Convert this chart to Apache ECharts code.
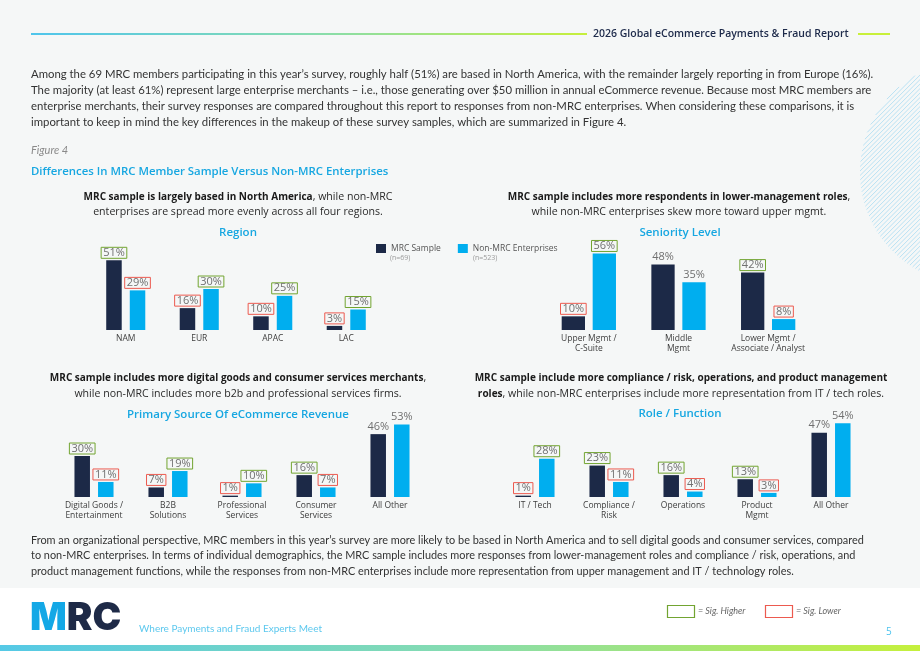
<!DOCTYPE html>
<html>
<head>
<meta charset="utf-8">
<script src="https://cdn.jsdelivr.net/npm/echarts@6/dist/echarts.min.js"></script>
<style>
  html, body { margin: 0; padding: 0; background: #fff; }
  #main { width: 920px; height: 651px; }
</style>
</head>
<body>
<div id="main"></div>
<script>
// colours used across the page
var NAVY = '#1c2947';
var CYAN = '#00aeef';
var SIG_HIGH = '#72a431';
var SIG_LOW = '#ec5a4f';
var BODY_FONT = 'Lato';
var HEAD_FONT = '"Open Sans"';

// Region
var regionCats = ['NAM', 'EUR', 'APAC', 'LAC'];
var regionMrc = [51, 16, 10, 3];
var regionNon = [29, 30, 25, 15];
var regionMrcSig = ['h', 'l', 'l', 'l'];
var regionNonSig = ['l', 'h', 'h', 'h'];

// Seniority level
var seniorCats = ['Upper Mgmt /\nC-Suite', 'Middle\nMgmt', 'Lower Mgmt /\nAssociate / Analyst'];
var seniorMrc = [10, 48, 42];
var seniorNon = [56, 35, 8];
var seniorMrcSig = ['l', '', 'h'];
var seniorNonSig = ['h', '', 'l'];

// Primary source of eCommerce revenue
var sourceCats = ['Digital Goods /\nEntertainment', 'B2B\nSolutions', 'Professional\nServices', 'Consumer\nServices', 'All Other'];
var sourceMrc = [30, 7, 1, 16, 46];
var sourceNon = [11, 19, 10, 7, 53];
var sourceMrcSig = ['h', 'l', 'l', 'h', ''];
var sourceNonSig = ['l', 'h', 'h', 'l', ''];

// Role / function
var roleCats = ['IT / Tech', 'Compliance /\nRisk', 'Operations', 'Product\nMgmt', 'All Other'];
var roleMrc = [1, 23, 16, 13, 47];
var roleNon = [28, 11, 4, 3, 54];
var roleMrcSig = ['l', 'h', 'h', 'h', ''];
var roleNonSig = ['h', 'l', 'l', 'l', ''];

// text blocks
var introLines = [
  'Among the 69 MRC members participating in this year\u2019s survey, roughly half (51%) are based in North America, with the remainder largely reporting in from Europe (16%).',
  'The majority (at least 61%) represent large enterprise merchants \u2013 i.e., those generating over $50 million in annual eCommerce revenue. Because most MRC members are',
  'enterprise merchants, their survey responses are compared throughout this report to responses from non-MRC enterprises. When considering these comparisons, it is',
  'important to keep in mind the key differences in the makeup of these survey samples, which are summarized in Figure 4.'
];
var outroLines = [
  'From an organizational perspective, MRC members in this year\u2019s survey are more likely to be based in North America and to sell digital goods and consumer services, compared',
  'to non-MRC enterprises. In terms of individual demographics, the MRC sample includes more responses from lower-management roles and compliance / risk, operations, and',
  'product management functions, while the responses from non-MRC enterprises include more representation from upper management and IT / technology roles.'
];

var chartDom = document.getElementById('main');
var myChart = echarts.init(chartDom);

// bar values with the significance box on the label
function withSig(values, sig) {
  return values.map(function (v, i) {
    var item = { value: v };
    if (sig[i] === 'h') {
      item.label = { borderColor: SIG_HIGH, borderWidth: 1 };
    } else if (sig[i] === 'l') {
      item.label = { borderColor: SIG_LOW, borderWidth: 1 };
    }
    return item;
  });
}

function barSeries(name, color, idx, values, sig, width, gap) {
  return {
    name: name,
    type: 'bar',
    xAxisIndex: idx,
    yAxisIndex: idx,
    barWidth: width,
    barGap: gap,
    itemStyle: { color: color },
    data: withSig(values, sig),
    label: {
      show: true,
      position: 'top',
      distance: 2,
      formatter: '{c}%',
      fontFamily: HEAD_FONT,
      fontSize: 11,
      lineHeight: 11,
      color: '#707070',
      padding: [0, 2, 0, 2]
    }
  };
}

function catAxis(idx, cats) {
  return {
    type: 'category',
    gridIndex: idx,
    data: cats,
    axisLine: { show: false },
    axisTick: { show: false },
    axisLabel: {
      interval: 0,
      margin: 4,
      fontFamily: HEAD_FONT,
      fontSize: 8.5,
      lineHeight: 10,
      color: '#3d3d3d'
    }
  };
}

function valAxis(idx) {
  return { type: 'value', gridIndex: idx, min: 0, max: 60, show: false, splitLine: { show: false } };
}

function text(x, y, str, font, fill, align) {
  return {
    type: 'text',
    style: {
      x: x, y: y, text: str, font: font, fill: fill,
      textAlign: align || 'left', textVerticalAlign: 'middle'
    }
  };
}

// chart subheadings: regular part 10.6px, bold part 10px
function richText(x, y, str) {
  return {
    type: 'text',
    style: {
      x: x, y: y, text: str,
      font: '10.6px ' + HEAD_FONT, fill: '#2a2a2a',
      textAlign: 'center', textVerticalAlign: 'middle',
      rich: {
        b: { fontWeight: 'bold', fontSize: 10, fontFamily: HEAD_FONT, fill: '#1a1a1a' }
      }
    }
  };
}

function hGradient(a, b) {
  return new echarts.graphic.LinearGradient(0, 0, 1, 0, [
    { offset: 0, color: a },
    { offset: 0.5, color: '#86dcb0' },
    { offset: 1, color: b }
  ]);
}

// diagonal stripes in the top right corner, clipped to a circle
function stripes() {
  var cx = 972, cy = 172, r = 112;
  var out = [];
  for (var c = cx + cy - r * 1.41; c < cx + cy + r * 1.41; c += 4.5) {
    var d = c - cx - cy;
    var disc = 2 * r * r - d * d;
    if (disc <= 0) continue;
    var u1 = (d - Math.sqrt(disc)) / 2, u2 = (d + Math.sqrt(disc)) / 2;
    var x1 = cx + u1, x2 = cx + u2;
    out.push({
      type: 'line',
      silent: true,
      shape: { x1: x1, y1: c - x1, x2: x2, y2: c - x2 },
      style: { stroke: '#a9dcf3', lineWidth: 0.8 }
    });
  }
  return out;
}

var graphics = [];
// footer white band
graphics.push({ type: 'rect', shape: { x: 0, y: 588, width: 920, height: 63 }, style: { fill: '#ffffff' } });
graphics.push({ type: 'rect', shape: { x: 0, y: 645, width: 920, height: 6 }, style: { fill: hGradient('#55c9e6', '#c5f03c') } });
// header
graphics.push({ type: 'rect', shape: { x: 31, y: 33, width: 556, height: 2 }, style: { fill: hGradient('#4fc5ec', '#c6ef3c') } });
graphics.push({ type: 'rect', shape: { x: 858, y: 33, width: 32, height: 2 }, style: { fill: '#c8f03a' } });
graphics.push(text(593, 34, '2026 Global eCommerce Payments & Fraud Report', '600 10.5px ' + HEAD_FONT, '#1d2a4a'));
graphics = graphics.concat(stripes());

// intro paragraph
introLines.forEach(function (s, i) {
  graphics.push(text(31, 74 + i * 16, s, '11.35px ' + BODY_FONT, '#333333'));
});
graphics.push(text(31, 150, 'Figure 4', 'italic 11px ' + BODY_FONT, '#8a8a8a'));
graphics.push(text(31, 172, 'Differences In MRC Member Sample Versus Non-MRC Enterprises', '600 11.4px ' + HEAD_FONT, '#17a7e1'));

// chart headings
graphics.push(richText(238, 197, '{b|MRC sample is largely based in North America}, while non-MRC'));
graphics.push(richText(238, 212, 'enterprises are spread more evenly across all four regions.'));
graphics.push(text(238, 233, 'Region', '600 11.5px ' + HEAD_FONT, '#17a7e1', 'center'));

graphics.push(richText(679, 197, '{b|MRC sample includes more respondents in lower-management roles},'));
graphics.push(richText(679, 212, 'while non-MRC enterprises skew more toward upper mgmt.'));
graphics.push(text(680, 233, 'Seniority Level', '600 11.5px ' + HEAD_FONT, '#17a7e1', 'center'));

graphics.push(richText(238, 378, '{b|MRC sample includes more digital goods and consumer services merchants},'));
graphics.push(richText(238, 394, 'while non-MRC includes more b2b and professional services firms.'));
graphics.push(text(238, 415, 'Primary Source Of eCommerce Revenue', '600 11.5px ' + HEAD_FONT, '#17a7e1', 'center'));

graphics.push(richText(681, 378, '{b|MRC sample include more compliance / risk, operations, and product management}'));
graphics.push(richText(681, 394, '{b|roles}, while non-MRC enterprises include more representation from IT / tech roles.'));
graphics.push(text(680, 414, 'Role / Function', '600 11.5px ' + HEAD_FONT, '#17a7e1', 'center'));

// legend sample sizes
graphics.push(text(390, 258, '(n=69)', '7px ' + HEAD_FONT, '#9a9a9a'));
graphics.push(text(473, 258, '(n=523)', '7px ' + HEAD_FONT, '#9a9a9a'));

// closing paragraph
outroLines.forEach(function (s, i) {
  graphics.push(text(31, 540 + i * 15.5, s, '10.9px ' + BODY_FONT, '#333333'));
});

// footer
graphics.push({
  type: 'text',
  style: {
    x: 30, y: 618, text: '{m|M}{rc|RC}', textVerticalAlign: 'middle',
    rich: {
      m: { fontFamily: 'Inter', fontWeight: 900, fontSize: 38.5, fill: '#14a8e6' },
      rc: { fontFamily: 'Inter', fontWeight: 900, fontSize: 38.5, fill: '#1e2a47' }
    }
  }
});
graphics.push(text(139, 629, 'Where Payments and Fraud Experts Meet', '10px ' + BODY_FONT, '#5cc8ee'));
graphics.push({ type: 'rect', shape: { x: 667.5, y: 605.5, width: 27, height: 12 }, style: { fill: '#fff', stroke: SIG_HIGH, lineWidth: 1.2 } });
graphics.push(text(698, 611, '= Sig. Higher', 'italic 9px ' + BODY_FONT, '#666666'));
graphics.push({ type: 'rect', shape: { x: 765.5, y: 605.5, width: 27, height: 12 }, style: { fill: '#fff', stroke: SIG_LOW, lineWidth: 1.2 } });
graphics.push(text(796, 611, '= Sig. Lower', 'italic 9px ' + BODY_FONT, '#666666'));
graphics.push(text(886, 632, '5', '10px ' + HEAD_FONT, '#4cc3ee'));

var option = {
  backgroundColor: '#f5f7f7',
  animation: false,
  legend: {
    left: 376,
    top: 244,
    padding: 0,
    icon: 'rect',
    itemWidth: 10,
    itemHeight: 9,
    itemGap: 17,
    textStyle: { fontFamily: HEAD_FONT, fontSize: 8.5, color: '#555555' },
    data: ['MRC Sample', 'Non-MRC Enterprises']
  },
  grid: [
    { left: 89, top: 248, width: 294, height: 82 },
    { left: 544, top: 248, width: 269, height: 82 },
    { left: 57, top: 415, width: 370, height: 82 },
    { left: 498, top: 415, width: 370, height: 82 }
  ],
  xAxis: [catAxis(0, regionCats), catAxis(1, seniorCats), catAxis(2, sourceCats), catAxis(3, roleCats)],
  yAxis: [valAxis(0), valAxis(1), valAxis(2), valAxis(3)],
  series: [
    barSeries('MRC Sample', NAVY, 0, regionMrc, regionMrcSig, 15.5, '52%'),
    barSeries('Non-MRC Enterprises', CYAN, 0, regionNon, regionNonSig, 15.5, '52%'),
    barSeries('MRC Sample', NAVY, 1, seniorMrc, seniorMrcSig, 23.3, '33%'),
    barSeries('Non-MRC Enterprises', CYAN, 1, seniorNon, seniorNonSig, 23.3, '33%'),
    barSeries('MRC Sample', NAVY, 2, sourceMrc, sourceMrcSig, 15.5, '52%'),
    barSeries('Non-MRC Enterprises', CYAN, 2, sourceNon, sourceNonSig, 15.5, '52%'),
    barSeries('MRC Sample', NAVY, 3, roleMrc, roleMrcSig, 15.5, '52%'),
    barSeries('Non-MRC Enterprises', CYAN, 3, roleNon, roleNonSig, 15.5, '52%')
  ],
  graphic: { elements: graphics }
};
option && myChart.setOption(option);
</script>
</body>
</html>
